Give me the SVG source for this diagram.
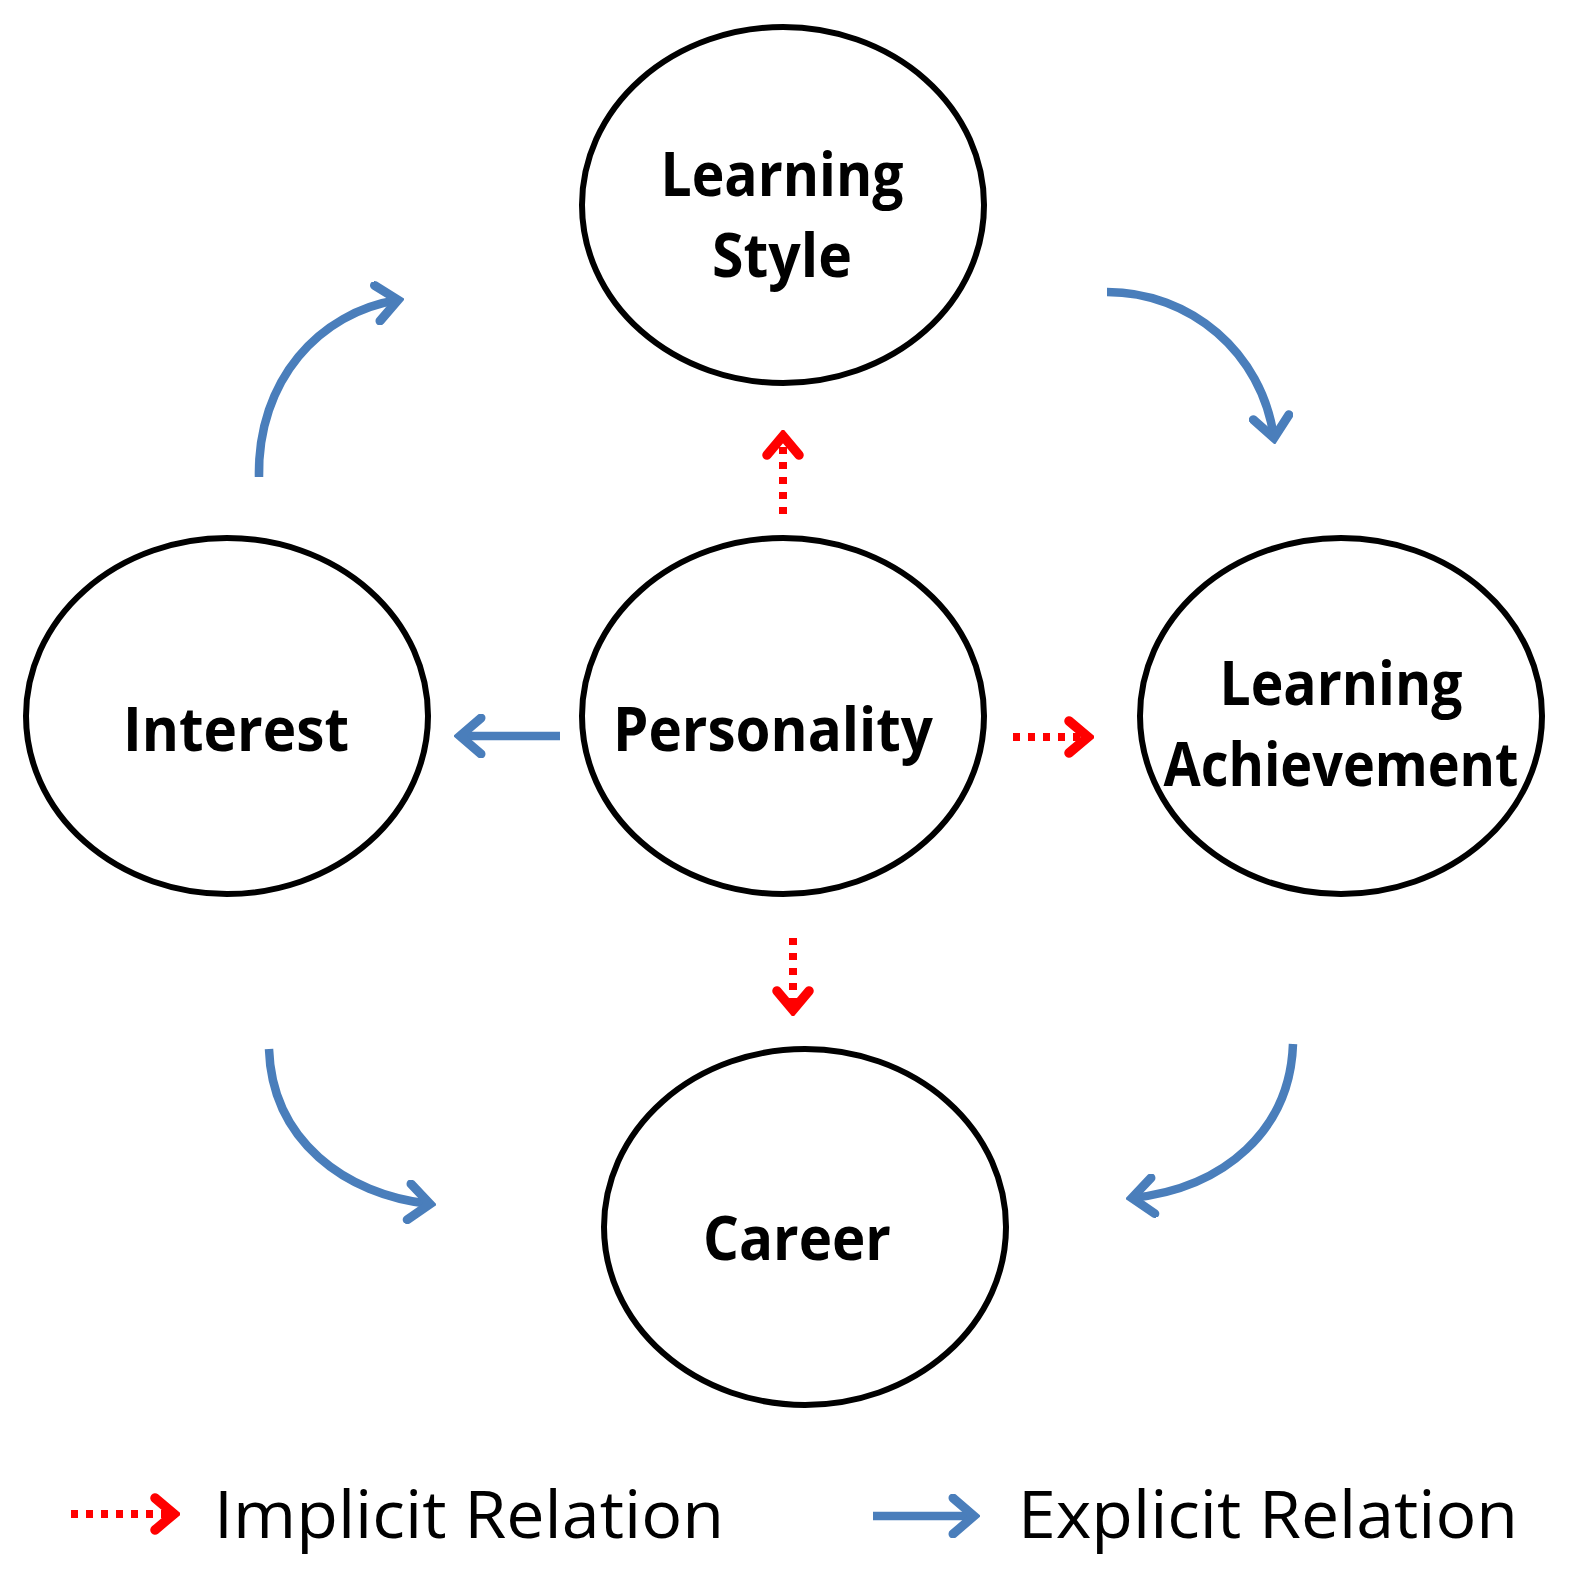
<svg xmlns="http://www.w3.org/2000/svg" width="1570" height="1581" viewBox="0 0 1570 1581">
<defs>
<style>
.node{fill:#fff;stroke:#000;stroke-width:6}
.lbl{font-family:"Open Sans","Liberation Sans",sans-serif;font-weight:bold;font-size:60px;fill:#000;text-anchor:middle}
.leg{font-family:"Open Sans","Liberation Sans",sans-serif;font-size:66px;fill:#000}
.exp{fill:none;stroke:#4A7EBB;stroke-width:8.5}
.imp{fill:none;stroke:#FF0000;stroke-width:8;stroke-dasharray:7 8}
</style>
<marker id="hb" viewBox="-30 -22 36 44" refX="0" refY="0" markerWidth="36" markerHeight="44" markerUnits="userSpaceOnUse" orient="auto">
<path d="M-21,-18 L0,0 L-21,18" fill="none" stroke="#4A7EBB" stroke-width="9" stroke-linecap="round" stroke-linejoin="miter"/>
</marker>
<marker id="hr" viewBox="-30 -22 36 44" refX="0" refY="0" markerWidth="36" markerHeight="44" markerUnits="userSpaceOnUse" orient="auto">
<path d="M-19,-16 L0,0 L-19,16" fill="none" stroke="#FF0000" stroke-width="9.5" stroke-linecap="round" stroke-linejoin="miter"/>
</marker>
</defs>
<rect width="1570" height="1581" fill="#fff"/>
<g id="connectors">
<path class="imp" d="M783,514 L783,436" marker-end="url(#hr)"/>
<path class="imp" d="M1013,737 L1088,737" marker-end="url(#hr)"/>
<path class="imp" d="M793,938 L793,1010" marker-end="url(#hr)"/>
<path class="exp" d="M560,736 L460,736" marker-end="url(#hb)"/>
<path class="exp" d="M259,477 C257,380 320,312 398,300" marker-end="url(#hb)"/>
<path class="exp" d="M1107,292 C1190,292 1262,352 1274,438" marker-end="url(#hb)"/>
<path class="exp" d="M269,1049 C272,1140 345,1195 430,1204" marker-end="url(#hb)"/>
<path class="exp" d="M1293,1044 C1290,1130 1225,1188 1132,1198" marker-end="url(#hb)"/>
</g>
<g id="learning-style">
<ellipse class="node" cx="783" cy="205" rx="201" ry="178"/>
<text class="lbl" x="782" y="196" textLength="243" lengthAdjust="spacingAndGlyphs">Learning</text>
<text class="lbl" x="782" y="277" textLength="140" lengthAdjust="spacingAndGlyphs">Style</text>
</g>
<g id="interest">
<ellipse class="node" cx="227" cy="716" rx="201" ry="178"/>
<text class="lbl" x="236" y="751" textLength="226" lengthAdjust="spacingAndGlyphs">Interest</text>
</g>
<g id="personality">
<ellipse class="node" cx="783" cy="716" rx="201" ry="178"/>
<text class="lbl" x="773" y="751" textLength="320" lengthAdjust="spacingAndGlyphs">Personality</text>
</g>
<g id="learning-achievement">
<ellipse class="node" cx="1341" cy="716" rx="201" ry="178"/>
<text class="lbl" x="1341" y="705" textLength="243" lengthAdjust="spacingAndGlyphs">Learning</text>
<text class="lbl" x="1341" y="786" textLength="355" lengthAdjust="spacingAndGlyphs">Achievement</text>
</g>
<g id="career">
<ellipse class="node" cx="805" cy="1227" rx="201" ry="178"/>
<text class="lbl" x="797" y="1260" textLength="188" lengthAdjust="spacingAndGlyphs">Career</text>
</g>
<g id="legend">
<path class="imp" d="M71,1514 L174,1514" marker-end="url(#hr)"/>
<text class="leg" x="214" y="1538" textLength="510" lengthAdjust="spacingAndGlyphs">Implicit Relation</text>
<path class="exp" d="M873,1516 L974,1516" marker-end="url(#hb)"/>
<text class="leg" x="1018" y="1538" textLength="500" lengthAdjust="spacingAndGlyphs">Explicit Relation</text>
</g>
</svg>
